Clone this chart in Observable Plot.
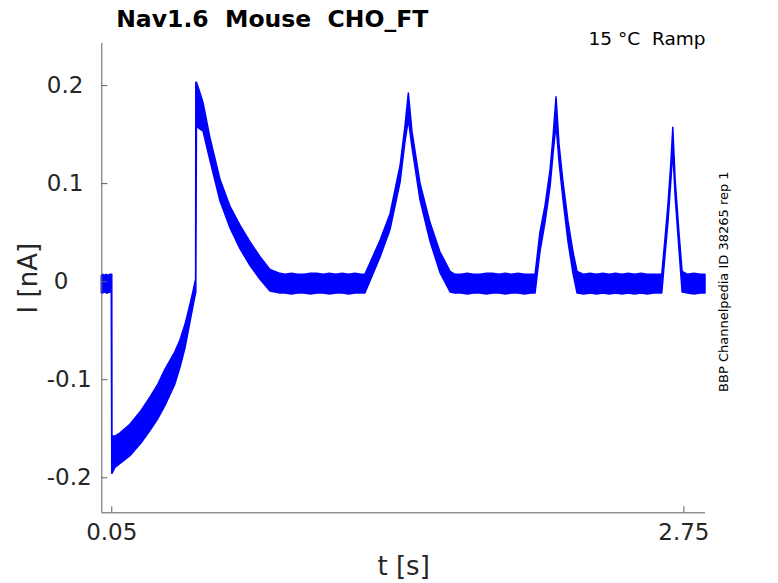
<!DOCTYPE html>
<html><head><meta charset="utf-8">
<script src="https://cdn.jsdelivr.net/npm/d3@7"></script>
<script src="https://cdn.jsdelivr.net/npm/@observablehq/plot@0.6"></script>
<style>
body{margin:0;background:#fff}
#chart svg text{white-space:pre}
</style></head><body><div id="chart"></div>
<script>
// time [s]
const t = [0.003,0.010,0.018,0.026,0.034,0.042,0.050,0.0525,0.0533,0.0675,0.09,0.138,0.19,0.233,0.27,0.303,0.350,0.374,0.398,0.421,0.436,0.448,0.449,0.452,0.469,0.483,0.516,0.563,0.611,0.658,0.705,0.752,0.799,0.846,
0.87,0.90,0.93,0.96,0.99,1.02,1.05,1.08,1.11,1.14,1.17,1.20,1.23,1.247,1.319,1.366,1.413,1.436,1.452,1.469,1.507,1.554,1.601,1.649,1.672,
1.70,1.73,1.76,1.79,1.82,1.85,1.88,1.91,1.94,1.97,2.00,2.03,2.050,2.073,2.097,2.121,2.135,2.149,2.163,2.182,2.205,2.229,2.248,
2.28,2.31,2.34,2.37,2.40,2.43,2.46,2.49,2.52,2.55,2.58,2.61,2.648,2.663,2.677,2.691,2.700,2.711,2.730,2.744,2.77,2.80,2.83,2.852];
// upper envelope of the sweeps [nA]
const hi = [0.006,0.007,0.006,0.007,0.006,0.007,0.007,0.007,-0.158,-0.158,-0.155,-0.146,-0.132,-0.118,-0.105,-0.090,-0.072,-0.060,-0.044,-0.024,-0.010,0.002,0.203,0.203,0.192,0.182,0.146,0.104,0.076,0.057,0.040,0.025,0.012,0.008,
0.007,0.008,0.007,0.007,0.008,0.008,0.007,0.008,0.007,0.008,0.007,0.008,0.007,0.007,0.042,0.069,0.118,0.158,0.192,0.153,0.100,0.060,0.030,0.010,0.007,
0.007,0.008,0.007,0.007,0.008,0.008,0.007,0.008,0.007,0.008,0.007,0.007,0.007,0.050,0.077,0.114,0.148,0.188,0.140,0.101,0.062,0.030,0.010,
0.007,0.008,0.007,0.008,0.007,0.008,0.007,0.008,0.007,0.008,0.007,0.007,0.007,0.043,0.078,0.121,0.157,0.104,0.047,0.010,0.007,0.008,0.007,0.007];
// lower envelope of the sweeps [nA]
const lo = [-0.012,-0.012,-0.011,-0.012,-0.012,-0.011,-0.012,-0.196,-0.196,-0.190,-0.186,-0.178,-0.165,-0.152,-0.140,-0.127,-0.105,-0.088,-0.068,-0.042,-0.025,-0.012,-0.012,0.158,0.155,0.153,0.123,0.082,0.054,0.033,0.016,0.002,-0.010,-0.012,
-0.012,-0.013,-0.012,-0.012,-0.013,-0.012,-0.012,-0.013,-0.012,-0.012,-0.013,-0.012,-0.012,-0.012,0.025,0.053,0.101,0.142,0.165,0.137,0.083,0.041,0.009,-0.011,-0.012,
-0.012,-0.013,-0.012,-0.012,-0.013,-0.012,-0.012,-0.013,-0.012,-0.012,-0.013,-0.012,-0.012,0.030,0.060,0.097,0.130,0.160,0.122,0.083,0.041,0.008,-0.012,
-0.013,-0.012,-0.013,-0.012,-0.013,-0.012,-0.013,-0.012,-0.013,-0.012,-0.013,-0.012,-0.012,0.026,0.060,0.103,0.133,0.087,0.030,-0.011,-0.012,-0.013,-0.012,-0.012];

const xDomain = [0.003, 2.852];
const yDomain = [-0.2357, 0.2429];
const xTicks = [0.05, 2.75];
const yTicks = [0.2, 0.1, 0, -0.1, -0.2];
const yTickLabels = ["0.2", "0.1", "0", "-0.1", "-0.2"];
const title = "Nav1.6  Mouse  CHO_FT";
const subtitle = "15 °C  Ramp";
const sideNote = "BBP Channelpedia ID 38265 rep 1";
const xLabel = "t [s]";
const yLabel = "I [nA]";

const rows = t.map((d, i) => ({t: d, hi: hi[i], lo: lo[i]}));
const ink = "#262626";
const axisGray = "#606060";
const yFmt = d => yTickLabels[yTicks.indexOf(d)];

const plot = Plot.plot({
  width: 778, height: 583,
  marginLeft: 101.3, marginRight: 73, marginTop: 43, marginBottom: 70.7,
  style: {fontFamily: "DejaVu Sans", background: "white", color: ink},
  x: {domain: xDomain, label: null},
  y: {domain: yDomain, label: null},
  marks: [
    Plot.areaY(rows, {x: "t", y1: "lo", y2: "hi", fill: "#0000ff", stroke: "#0000ff", strokeWidth: 1.5, curve: "linear"}),
    Plot.ruleX([xDomain[0]], {stroke: axisGray, strokeWidth: 1}),
    Plot.ruleY([yDomain[0]], {stroke: axisGray, strokeWidth: 1}),
    Plot.axisX(xTicks, {anchor: "bottom", tickSize: -6, tickPadding: 17, fontSize: 23, stroke: axisGray, fill: ink, tickFormat: d => d.toFixed(2), label: null}),
    Plot.axisY(yTicks.filter(d => d !== 0), {anchor: "left", tickSize: -6, tickPadding: 61, textAnchor: "start", fontSize: 23, stroke: axisGray, fill: ink, tickFormat: yFmt, label: null}),
    Plot.axisY(yTicks.filter(d => d === 0), {anchor: "left", tickSize: -6, tickPadding: 54, textAnchor: "start", fontSize: 23, stroke: axisGray, fill: ink, tickFormat: yFmt, label: null}),
    Plot.text([title], {text: d => d, frameAnchor: "top-left", dx: 14.4, dy: -17, lineAnchor: "bottom", textAnchor: "start", fontSize: 23.5, fontWeight: "bold", fill: "#000"}),
    Plot.text([subtitle], {text: d => d, frameAnchor: "top-right", dx: 0, dy: 1, lineAnchor: "bottom", textAnchor: "end", fontSize: 18.5, fill: "#000"}),
    Plot.text([sideNote], {text: d => d, frameAnchor: "right", dx: 18, dy: 3.5, rotate: -90, textAnchor: "middle", lineAnchor: "middle", fontSize: 13, fill: "#000"}),
    Plot.text([yLabel], {text: d => d, frameAnchor: "left", dx: -73, rotate: -90, textAnchor: "middle", lineAnchor: "middle", fontSize: 26, fill: ink}),
    Plot.text([xLabel], {text: d => d, frameAnchor: "bottom", dy: 62, textAnchor: "middle", lineAnchor: "bottom", fontSize: 26, fill: ink})
  ]
});
document.getElementById("chart").appendChild(plot);
</script></body></html>
